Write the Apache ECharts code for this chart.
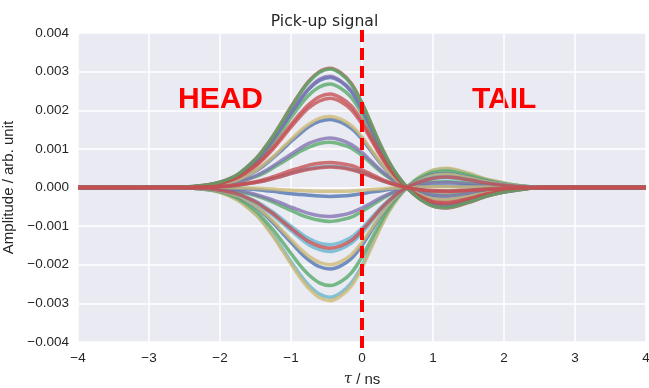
<!DOCTYPE html>
<html>
<head>
<meta charset="utf-8">
<script src="https://cdn.jsdelivr.net/npm/echarts@6/dist/echarts.min.js"></script>
<style>html,body{margin:0;padding:0;background:#fff;}#c{width:649px;height:388px;}</style>
</head>
<body>
<div id="c"></div>
<script>
// tau sample points (ns)
const tau = [-4,-2.5,-2.25,-2,-1.75,-1.5,-1.375,-1.25,-1.125,-1,-0.875,-0.75,-0.6,-0.45,-0.3,-0.15,0,0.125,0.25,0.375,0.5,0.65,0.8,1.0,1.2,1.5,1.75,2,2.25,2.5,4];
const xTicks = [-4,-3,-2,-1,0,1,2,3,4];
const yTicks = [-0.004,-0.003,-0.002,-0.001,0,0.001,0.002,0.003,0.004];
const markerTau = 0;

// positive-going curves
const p01 = [0,0.00001,0.00005,0.00014,0.00034,0.00074,0.00102,0.00134,0.00171,0.00209,0.00244,0.00275,0.00300,0.00309,0.00297,0.00269,0.00219,0.00167,0.00114,0.00068,0.00031,-0.00003,-0.00028,-0.00048,-0.00053,-0.00039,-0.00023,-0.00012,-0.00005,0,0];
const p02 = [0,0.00001,0.00005,0.00014,0.00034,0.00073,0.00101,0.00134,0.00170,0.00207,0.00243,0.00273,0.00298,0.00307,0.00295,0.00267,0.00218,0.00166,0.00114,0.00068,0.00031,-0.00003,-0.00028,-0.00048,-0.00052,-0.00038,-0.00023,-0.00012,-0.00005,0,0];
const p03 = [0,0.00001,0.00004,0.00013,0.00032,0.00069,0.00095,0.00125,0.00159,0.00194,0.00228,0.00256,0.00280,0.00288,0.00276,0.00251,0.00204,0.00156,0.00107,0.00063,0.00029,-0.00003,-0.00026,-0.00045,-0.00049,-0.00036,-0.00022,-0.00012,-0.00004,0,0];
const p04 = [0,0.00001,0.00004,0.00013,0.00032,0.00068,0.00094,0.00124,0.00158,0.00192,0.00225,0.00254,0.00277,0.00285,0.00274,0.00248,0.00202,0.00154,0.00105,0.00063,0.00029,-0.00003,-0.00026,-0.00044,-0.00048,-0.00036,-0.00021,-0.00011,-0.00004,0,0];
const p05 = [0,0.00001,0.00004,0.00012,0.00030,0.00064,0.00088,0.00117,0.00148,0.00181,0.00212,0.00239,0.00260,0.00268,0.00257,0.00233,0.00190,0.00145,0.00099,0.00059,0.00027,-0.00003,-0.00024,-0.00042,-0.00046,-0.00034,-0.00020,-0.00011,-0.00004,0,0];
const p06 = [0,0.00001,0.00004,0.00011,0.00027,0.00058,0.00080,0.00105,0.00134,0.00163,0.00191,0.00215,0.00235,0.00242,0.00232,0.00211,0.00172,0.00131,0.00090,0.00053,0.00024,-0.00002,-0.00022,-0.00038,-0.00041,-0.00030,-0.00018,-0.00010,-0.00004,0,0];
const p07 = [0,0.00001,0.00003,0.00010,0.00026,0.00055,0.00076,0.00100,0.00128,0.00156,0.00183,0.00206,0.00224,0.00231,0.00222,0.00201,0.00164,0.00125,0.00085,0.00051,0.00023,-0.00002,-0.00021,-0.00036,-0.00039,-0.00029,-0.00017,-0.00009,-0.00003,0,0];
const p08 = [0,0.00001,0.00003,0.00008,0.00020,0.00044,0.00061,0.00080,0.00102,0.00124,0.00146,0.00164,0.00179,0.00184,0.00177,0.00160,0.00131,0.00099,0.00068,0.00040,0.00018,-0.00002,-0.00017,-0.00029,-0.00031,-0.00023,-0.00014,-0.00007,-0.00003,0,0];
const p09 = [0,0.00001,0.00003,0.00008,0.00020,0.00042,0.00058,0.00077,0.00097,0.00119,0.00139,0.00157,0.00171,0.00176,0.00169,0.00153,0.00125,0.00095,0.00065,0.00039,0.00018,-0.00002,-0.00016,-0.00027,-0.00030,-0.00022,-0.00013,-0.00007,-0.00003,0,0];
const p10 = [0,0.00001,0.00002,0.00006,0.00014,0.00030,0.00042,0.00056,0.00071,0.00086,0.00101,0.00114,0.00124,0.00128,0.00123,0.00111,0.00091,0.00069,0.00047,0.00028,0.00013,-0.00001,-0.00012,-0.00020,-0.00022,-0.00016,-0.00010,-0.00005,-0.00002,0,0];
const p11 = [0,0,0.00002,0.00005,0.00013,0.00028,0.00038,0.00051,0.00065,0.00079,0.00093,0.00104,0.00114,0.00117,0.00112,0.00102,0.00083,0.00063,0.00043,0.00026,0.00012,-0.00001,-0.00011,-0.00018,-0.00020,-0.00015,-0.00009,-0.00005,-0.00002,0,0];
const p12 = [0,0,0.00001,0.00003,0.00007,0.00015,0.00021,0.00028,0.00036,0.00044,0.00051,0.00058,0.00063,0.00065,0.00062,0.00057,0.00046,0.00035,0.00024,0.00014,0.00007,-0.00001,-0.00006,-0.00010,-0.00011,-0.00008,-0.00005,-0.00003,-0.00001,0,0];
const p13 = [0,0,0.00001,0.00002,0.00006,0.00013,0.00018,0.00024,0.00030,0.00037,0.00044,0.00049,0.00053,0.00055,0.00053,0.00048,0.00039,0.00030,0.00020,0.00012,0.00006,-0.00001,-0.00005,-0.00009,-0.00009,-0.00007,-0.00004,-0.00002,-0.00001,0,0];
const p14 = [0,0,0.00001,0.00002,0.00006,0.00013,0.00017,0.00023,0.00029,0.00036,0.00042,0.00047,0.00051,0.00053,0.00051,0.00046,0.00038,0.00029,0.00020,0.00012,0.00005,-0.00001,-0.00005,-0.00008,-0.00009,-0.00007,-0.00004,-0.00002,-0.00001,0,0];
// negative-going curves
const n01 = [0,0,0,0,-0.00001,-0.00002,-0.00003,-0.00004,-0.00006,-0.00007,-0.00008,-0.00009,-0.00010,-0.00010,-0.00010,-0.00009,-0.00007,-0.00005,-0.00004,-0.00002,-0.00001,0,0.00001,0.00002,0.00002,0.00001,0.00001,0,0,0,0];
const n02 = [0,0,0,-0.00001,-0.00003,-0.00005,-0.00008,-0.00010,-0.00013,-0.00016,-0.00018,-0.00020,-0.00022,-0.00023,-0.00022,-0.00020,-0.00016,-0.00012,-0.00009,-0.00005,-0.00002,0,0.00002,0.00004,0.00004,0.00003,0.00002,0.00001,0,0,0];
const n03 = [0,0,-0.00001,-0.00003,-0.00008,-0.00018,-0.00025,-0.00033,-0.00041,-0.00051,-0.00059,-0.00067,-0.00073,-0.00075,-0.00072,-0.00065,-0.00053,-0.00041,-0.00028,-0.00017,-0.00008,0.00001,0.00007,0.00012,0.00013,0.00009,0.00006,0.00003,0.00001,0,0];
const n04 = [0,0,-0.00001,-0.00004,-0.00010,-0.00021,-0.00029,-0.00038,-0.00049,-0.00059,-0.00070,-0.00078,-0.00085,-0.00088,-0.00084,-0.00077,-0.00062,-0.00048,-0.00033,-0.00019,-0.00009,0.00001,0.00008,0.00014,0.00015,0.00011,0.00007,0.00004,0.00001,0,0];
const n05 = [0,-0.00001,-0.00002,-0.00007,-0.00016,-0.00035,-0.00049,-0.00064,-0.00082,-0.00100,-0.00117,-0.00132,-0.00144,-0.00148,-0.00142,-0.00129,-0.00105,-0.00080,-0.00055,-0.00033,-0.00015,0.00001,0.00013,0.00023,0.00025,0.00019,0.00011,0.00006,0.00002,0,0];
const n06 = [0,-0.00001,-0.00002,-0.00007,-0.00017,-0.00037,-0.00052,-0.00068,-0.00087,-0.00106,-0.00124,-0.00140,-0.00152,-0.00157,-0.00151,-0.00137,-0.00111,-0.00085,-0.00058,-0.00035,-0.00016,0.00002,0.00014,0.00024,0.00027,0.00020,0.00012,0.00006,0.00002,0,0];
const n07 = [0,-0.00001,-0.00002,-0.00007,-0.00018,-0.00040,-0.00055,-0.00072,-0.00092,-0.00112,-0.00131,-0.00148,-0.00161,-0.00166,-0.00159,-0.00144,-0.00118,-0.00090,-0.00061,-0.00037,-0.00017,0.00002,0.00015,0.00026,0.00028,0.00021,0.00012,0.00007,0.00002,0,0];
const n08 = [0,-0.00001,-0.00003,-0.00009,-0.00022,-0.00048,-0.00066,-0.00087,-0.00111,-0.00135,-0.00158,-0.00178,-0.00194,-0.00200,-0.00192,-0.00174,-0.00142,-0.00108,-0.00074,-0.00044,-0.00020,0.00002,0.00018,0.00031,0.00034,0.00025,0.00015,0.00008,0.00003,0,0];
const n09 = [0,-0.00001,-0.00003,-0.00009,-0.00023,-0.00050,-0.00069,-0.00092,-0.00117,-0.00142,-0.00167,-0.00188,-0.00205,-0.00211,-0.00203,-0.00184,-0.00150,-0.00114,-0.00078,-0.00046,-0.00021,0.00002,0.00019,0.00033,0.00036,0.00026,0.00016,0.00008,0.00003,0,0];
const n10 = [0,-0.00001,-0.00004,-0.00011,-0.00028,-0.00060,-0.00084,-0.00110,-0.00140,-0.00171,-0.00201,-0.00226,-0.00247,-0.00254,-0.00244,-0.00221,-0.00180,-0.00137,-0.00094,-0.00056,-0.00025,0.00003,0.00023,0.00039,0.00043,0.00032,0.00019,0.00010,0.00004,0,0];
const n11 = [0,-0.00001,-0.00004,-0.00012,-0.00032,-0.00068,-0.00093,-0.00124,-0.00157,-0.00192,-0.00225,-0.00253,-0.00276,-0.00284,-0.00273,-0.00247,-0.00202,-0.00153,-0.00105,-0.00062,-0.00028,0.00003,0.00026,0.00044,0.00048,0.00036,0.00021,0.00011,0.00004,0,0];
const n12 = [0,-0.00001,-0.00004,-0.00013,-0.00033,-0.00070,-0.00096,-0.00127,-0.00162,-0.00198,-0.00232,-0.00261,-0.00285,-0.00293,-0.00281,-0.00255,-0.00208,-0.00158,-0.00108,-0.00064,-0.00029,0.00003,0.00026,0.00045,0.00050,0.00037,0.00022,0.00012,0.00004,0,0];

const BLUE='#4C72B0', GREEN='#55A868', RED='#C44E52', PURPLE='#8172B2', YELLOW='#CCB974', CYAN='#64B5CD';
// drawing order (last on top)
const curves = [
  [n11,CYAN],[n12,YELLOW],[n10,GREEN],[n09,BLUE],[n08,YELLOW],[n07,CYAN],[n05,CYAN],
  [n04,GREEN],[n03,PURPLE],[n02,BLUE],[n01,YELLOW],
  [p11,GREEN],[p10,PURPLE],[p09,BLUE],[p08,YELLOW],[p05,GREEN],[p04,BLUE],[p03,PURPLE],
  [p13,CYAN],[p07,RED],[p06,RED],[p01,RED],[p02,GREEN],[p12,RED],[n06,RED],[p14,RED]
];

const fmtMinus = s => s.replace('-', '\u2212');
const series = curves.map(([d,c]) => ({
  type:'line', data: tau.map((t,i)=>[t,d[i]]), showSymbol:false, smooth:0.3,
  lineStyle:{color:c, width:3.5, opacity:0.78}, itemStyle:{color:c}, silent:true, z:2
}));
// dashed marker line on an overlay grid that extends slightly beyond the plot area
series.push({
  type:'line', xAxisIndex:1, yAxisIndex:1, data:[[markerTau,0]], showSymbol:false, silent:true, z:5,
  lineStyle:{opacity:0},
  markLine:{symbol:'none', silent:true, label:{show:false}, animation:false,
    lineStyle:{color:'#FF0000', width:4, type:[12,6], opacity:1},
    data:[[{coord:[markerTau,1]},{coord:[markerTau,-1]}]]}
});

const chart = echarts.init(document.getElementById('c'), null, {renderer:'canvas'});
chart.setOption({
  animation:false,
  backgroundColor:'#ffffff',
  title:{text:'Pick-up signal', left:'center', top:9, textStyle:{fontFamily:'DejaVu Sans', fontSize:15.6, fontWeight:'normal', color:'#262626'}},
  grid:[
    {left:78, right:3, top:33, bottom:46, show:true, backgroundColor:'#EAEAF2', borderWidth:0, containLabel:false, outerBoundsMode:'none'},
    {left:78, right:3, top:30, bottom:40, show:false, containLabel:false, outerBoundsMode:'none'}
  ],
  xAxis:[{type:'value', gridIndex:0, min:xTicks[0], max:xTicks[xTicks.length-1], interval:1,
    name:'{t|\u03C4} / ns', nameLocation:'middle', nameGap:30,
    nameTextStyle:{fontFamily:'Liberation Sans', fontSize:15, color:'#262626',
      rich:{t:{fontFamily:'DejaVu Serif', fontStyle:'italic', fontSize:15, color:'#262626'}}},
    axisLine:{show:false}, axisTick:{show:false},
    axisLabel:{fontFamily:'Liberation Sans', fontSize:13.5, color:'#262626', margin:9, formatter:v=>fmtMinus(String(v))},
    splitLine:{show:true, lineStyle:{color:'#ffffff', width:1.5}}},
    {type:'value', gridIndex:1, min:xTicks[0], max:xTicks[xTicks.length-1], show:false}],
  yAxis:[{type:'value', gridIndex:0, min:yTicks[0], max:yTicks[yTicks.length-1], interval:0.001,
    name:'Amplitude / arb. unit', nameLocation:'middle', nameGap:58,
    nameTextStyle:{fontFamily:'Liberation Sans', fontSize:15, color:'#262626'},
    axisLine:{show:false}, axisTick:{show:false},
    axisLabel:{fontFamily:'Liberation Sans', fontSize:13.5, color:'#262626', margin:9,
      formatter:v=>fmtMinus((Math.abs(v)<1e-12?0:v).toFixed(3))},
    splitLine:{show:true, lineStyle:{color:'#ffffff', width:1.5}}},
    {type:'value', gridIndex:1, min:-1, max:1, show:false}],
  graphic:[
    {type:'text', left:178, top:85, style:{text:'HEAD', fill:'#FF0000', font:'bold 30px "Liberation Sans"'}},
    {type:'text', left:472, top:85, style:{text:'TAIL', fill:'#FF0000', font:'bold 30px "Liberation Sans"'}}
  ],
  series: series
});
</script>
</body>
</html>
